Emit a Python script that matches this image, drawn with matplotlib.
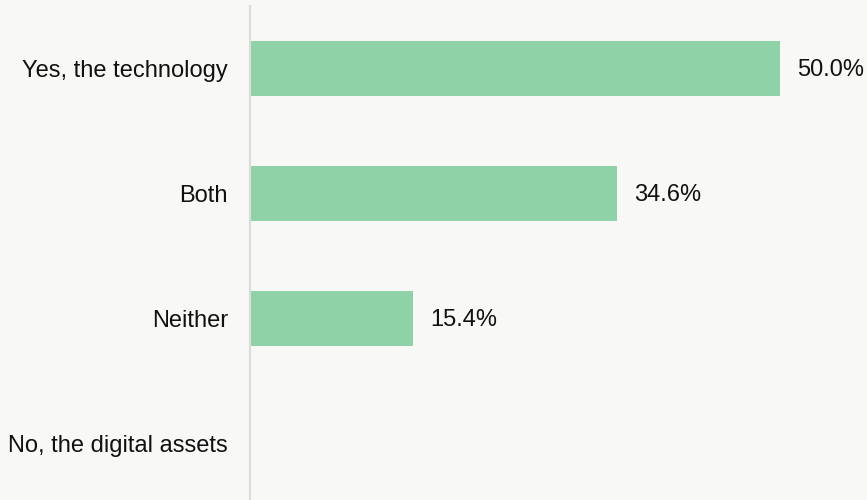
import matplotlib
matplotlib.use("Agg")
import matplotlib.pyplot as plt

categories = ["Yes, the technology", "Both", "Neither", "No, the digital assets"]
values = [50.0, 34.6, 15.4, 0.0]
labels = ["50.0%", "34.6%", "15.4%", ""]

plt.rcParams['font.family'] = ['Liberation Sans', 'DejaVu Sans']

bg = "#f8f8f6"
fig = plt.figure(figsize=(8.67, 5), dpi=100, facecolor=bg)
ax = fig.add_axes([250 / 867, -6 / 500, 617 / 867, 500 / 500])
ax.set_facecolor(bg)

pos = list(range(len(categories)))
ax.barh(pos, values, height=0.44, color="#90d2a8")
for p, v, lab in zip(pos, values, labels):
    if lab:
        ax.text(v + 1.6, p + 0.015, lab, va="center", ha="left", fontsize=17, color="#111111")

ax.set_ylim(3.5, -0.5)
ax.set_xlim(0, 58.2)
ax.set_yticks(pos)
ax.set_yticklabels(categories, fontsize=17, color="#111111")
ax.tick_params(axis="y", length=0, pad=16)
ax.set_xticks([])
for s in ["top", "right", "bottom"]:
    ax.spines[s].set_visible(False)
ax.spines["left"].set_color("#dcdcdc")
ax.spines["left"].set_linewidth(1.5)

fig.savefig("out.png", dpi=100, facecolor=bg)
